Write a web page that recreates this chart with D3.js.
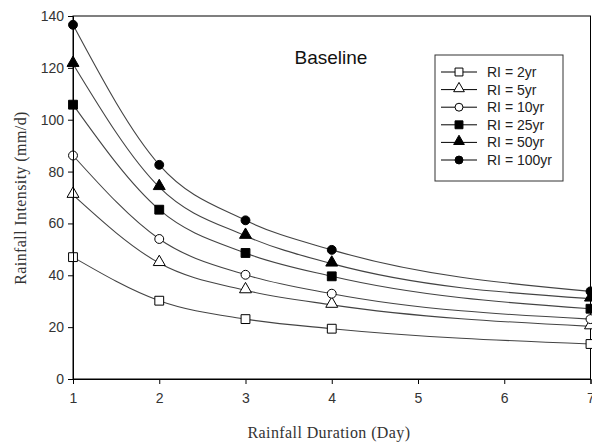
<!DOCTYPE html>
<html>
<head>
<meta charset="utf-8">
<script src="https://cdn.jsdelivr.net/npm/d3@7"></script>
<style>
  body { margin: 0; background: #fff; }
  .tick text { font-family: "Liberation Sans", Arial, sans-serif; font-size: 14px; fill: #333; }
  .axis-title { font-family: "Liberation Serif", "Times New Roman", serif; font-size: 16px; fill: #333; letter-spacing: 0.4px; }
</style>
</head>
<body>
<div id="wrapper"></div>
<script>
// Rainfall duration (days)
const durations = [1, 2, 3, 4, 7];
// Return interval labels
const seriesNames = ["RI = 2yr", "RI = 5yr", "RI = 10yr", "RI = 25yr", "RI = 50yr", "RI = 100yr"];
// Intensities (mm/d)
const ri2 = [47, 30.2, 23.1, 19.4, 13.5];
const ri5 = [71, 44.7, 34.2, 28.6, 20.3];
const ri10 = [86.2, 54, 40.2, 32.9, 23.1];
const ri25 = [105.8, 65.3, 48.6, 39.6, 27.1];
const ri50 = [121.5, 74, 55.2, 44.5, 31];
const ri100 = [136.6, 82.6, 61.2, 49.8, 33.8];
const xTicks = [1, 2, 3, 4, 5, 6, 7];
const yTicks = [0, 20, 40, 60, 80, 100, 120, 140];

const seriesValues = [ri2, ri5, ri10, ri25, ri50, ri100];
const symbols = [
  { type: d3.symbolSquare, fill: "#fff" },
  { type: d3.symbolTriangle, fill: "#fff" },
  { type: d3.symbolCircle, fill: "#fff" },
  { type: d3.symbolSquare, fill: "#000" },
  { type: d3.symbolTriangle, fill: "#000" },
  { type: d3.symbolCircle, fill: "#000" },
];
const symbolSize = [78, 62, 62, 78, 62, 62];

const dimensions = {
  width: 592,
  height: 442,
  margin: { top: 16, right: 1, bottom: 63, left: 73 },
};
dimensions.boundedWidth = dimensions.width - dimensions.margin.left - dimensions.margin.right;
dimensions.boundedHeight = dimensions.height - dimensions.margin.top - dimensions.margin.bottom;

const svg = d3.select("#wrapper")
  .append("svg")
    .attr("width", dimensions.width)
    .attr("height", dimensions.height);

const bounds = svg.append("g")
  .attr("transform", `translate(${dimensions.margin.left},${dimensions.margin.top})`);

const xScale = d3.scaleLinear()
  .domain([1, 7])
  .range([0, dimensions.boundedWidth - 0.5]);

const yScale = d3.scaleLinear()
  .domain([0, 140])
  .range([dimensions.boundedHeight, 0]);

// frame
bounds.append("rect")
  .attr("x", 0)
  .attr("y", 0)
  .attr("width", xScale(7))
  .attr("height", dimensions.boundedHeight)
  .attr("fill", "none")
  .attr("stroke", "#000")
  .attr("stroke-width", 1);

const lineGenerator = d3.line()
  .x((d, i) => xScale(durations[i]))
  .y(d => yScale(d))
  .curve(d3.curveMonotoneX);

seriesValues.forEach((vals, s) => {
  bounds.append("path")
    .attr("d", lineGenerator(vals))
    .attr("fill", "none")
    .attr("stroke", "#444")
    .attr("stroke-width", 1.1);
});

seriesValues.forEach((vals, s) => {
  const sym = d3.symbol().type(symbols[s].type).size(symbolSize[s]);
  bounds.selectAll(null)
    .data(vals)
    .join("path")
      .attr("d", sym)
      .attr("transform", (d, i) => `translate(${xScale(durations[i])},${yScale(d) + (symbols[s].type === d3.symbolTriangle ? -1 : 0)})`)
      .attr("fill", symbols[s].fill)
      .attr("stroke", "#000")
      .attr("stroke-width", 1);
});

// axes
const xAxis = bounds.append("g")
  .attr("transform", `translate(0,${dimensions.boundedHeight})`)
  .call(d3.axisBottom(xScale).tickValues(xTicks).tickFormat(d3.format("d")).tickSize(5).tickPadding(9));
const yAxis = bounds.append("g")
  .call(d3.axisLeft(yScale).tickValues(yTicks).tickSize(5).tickPadding(4));
[xAxis, yAxis].forEach(a => {
  a.select(".domain").attr("stroke", "#000");
  a.selectAll(".tick line").attr("stroke", "#000");
});

// titles
svg.append("text")
  .attr("class", "axis-title")
  .attr("x", 329)
  .attr("y", 438)
  .attr("text-anchor", "middle")
  .text("Rainfall Duration (Day)");

svg.append("text")
  .attr("class", "axis-title")
  .attr("transform", "translate(26,198) rotate(-90)")
  .attr("text-anchor", "middle")
  .text("Rainfall Intensity (mm/d)");

svg.append("text")
  .attr("x", 331)
  .attr("y", 64)
  .attr("text-anchor", "middle")
  .style("font-family", "'Liberation Sans', Arial, sans-serif")
  .style("font-size", "19px")
  .style("fill", "#111")
  .text("Baseline");

// legend
const legend = svg.append("g").attr("transform", "translate(435,55)");
legend.append("rect")
  .attr("width", 128)
  .attr("height", 126)
  .attr("fill", "#fff")
  .attr("stroke", "#333")
  .attr("stroke-width", 1);

seriesNames.forEach((name, s) => {
  const row = legend.append("g").attr("transform", `translate(0,${17 + s * 17.6})`);
  row.append("line")
    .attr("x1", 6).attr("x2", 42)
    .attr("stroke", "#000");
  row.append("path")
    .attr("d", d3.symbol().type(symbols[s].type).size(symbolSize[s] * 0.8))
    .attr("transform", `translate(24,${symbols[s].type === d3.symbolTriangle ? -1 : 0})`)
    .attr("fill", symbols[s].fill)
    .attr("stroke", "#000");
  row.append("text")
    .attr("x", 52)
    .attr("y", 5)
    .style("font-family", "'Liberation Sans', Arial, sans-serif")
    .style("font-size", "14px")
    .style("fill", "#222")
    .text(name);
});
</script>
</body>
</html>
